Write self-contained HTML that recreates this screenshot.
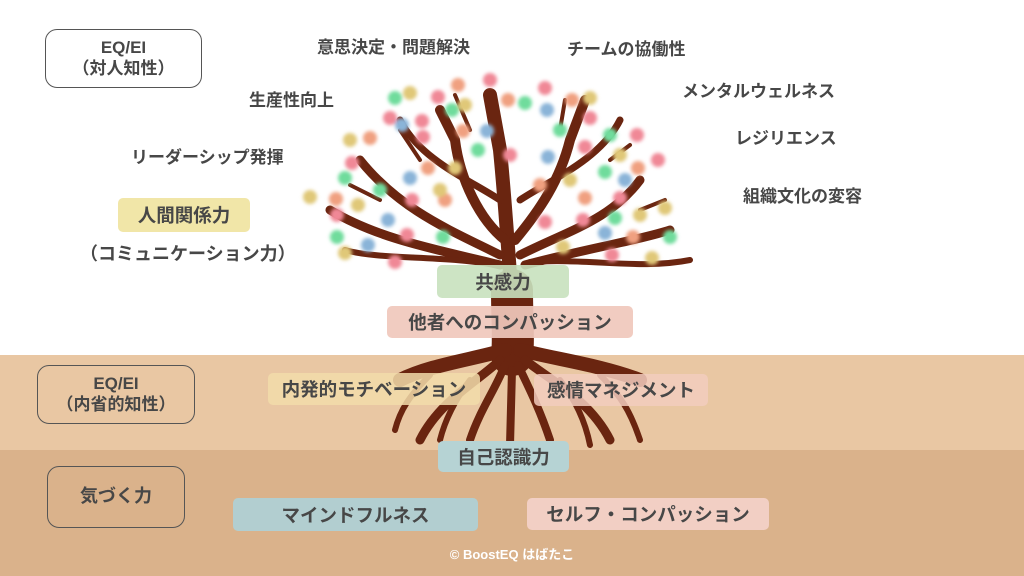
<!DOCTYPE html>
<html><head><meta charset="utf-8"><style>
body{margin:0;width:1024px;height:576px;overflow:hidden;position:relative;background:#fff;font-family:"Liberation Sans","Noto Sans CJK JP",sans-serif;font-weight:bold;color:#474747}
.t{position:absolute;font-size:17px;white-space:nowrap;line-height:1}
.b{position:absolute;display:flex;align-items:center;justify-content:center;font-size:18.5px;border-radius:5px;white-space:nowrap}
.o{position:absolute;border:1.3px solid #555;border-radius:12px;display:flex;flex-direction:column;align-items:center;justify-content:center;font-size:17px;line-height:1.2;box-sizing:border-box}
</style></head><body>
<div style="position:absolute;left:0;top:355px;width:1024px;height:95px;background:#e9c7a3"></div>
<div style="position:absolute;left:0;top:450px;width:1024px;height:126px;background:#dab28b"></div>
<svg style="position:absolute;left:0;top:0" width="1024" height="576">
<defs><filter id="bl"><feGaussianBlur stdDeviation="1.8"/></filter></defs>
<g fill="none" stroke="#6a2510" stroke-linecap="round">
<path d="M512 300 C508 250 505 200 500 150 L490 95" stroke-width="14"/>
<path d="M505 240 C480 220 460 180 455 140 L440 110" stroke-width="10"/>
<path d="M515 240 C540 210 560 180 570 140 L585 100" stroke-width="10"/>
<path d="M500 200 C470 180 420 160 400 120" stroke-width="7"/>
<path d="M520 200 C550 180 600 160 620 120" stroke-width="7"/>
<path d="M500 255 C450 230 400 210 360 160" stroke-width="9"/>
<path d="M520 255 C570 230 610 220 640 180" stroke-width="9"/>
<path d="M500 265 C440 250 380 240 330 210" stroke-width="9"/>
<path d="M525 265 C580 250 640 240 670 230" stroke-width="9"/>
<path d="M495 265 C440 255 380 260 345 250" stroke-width="6"/>
<path d="M530 262 C590 258 640 270 690 260" stroke-width="6"/>
<path d="M420 160 L400 130 M470 130 L455 95 M560 130 L565 100 M610 160 L630 145 M380 200 L350 185 M640 210 L665 200" stroke-width="4"/>
<path d="M512 290 C512 320 514 340 512 355" stroke-width="42"/>
<path d="M505 350 C470 360 430 365 400 380 M520 350 C560 360 600 365 640 380" stroke-width="14"/>
<path d="M500 360 C480 380 440 400 420 440 M525 360 C550 380 590 400 610 440" stroke-width="9"/>
<path d="M505 365 C495 390 480 410 470 440 M518 365 C530 390 540 410 550 440 M512 370 L510 445" stroke-width="8"/>
<path d="M430 375 C410 395 400 410 395 430 M600 375 C620 395 630 410 640 440 M470 380 C455 400 445 420 440 440 M560 380 C575 400 585 420 590 445" stroke-width="6"/>
</g>
<g filter="url(#bl)">
<circle cx="490" cy="80" r="7" fill="#f08896"/><circle cx="545" cy="88" r="7" fill="#f08896"/><circle cx="458" cy="85" r="7" fill="#f0a080"/><circle cx="438" cy="97" r="7" fill="#f08896"/><circle cx="410" cy="93" r="7" fill="#e0c878"/><circle cx="395" cy="98" r="7" fill="#6fdc9c"/><circle cx="390" cy="118" r="7" fill="#f08896"/><circle cx="402" cy="125" r="7" fill="#8ab4d8"/><circle cx="350" cy="140" r="7" fill="#e0c878"/><circle cx="370" cy="138" r="7" fill="#f0a080"/><circle cx="352" cy="163" r="7" fill="#f08896"/><circle cx="345" cy="178" r="7" fill="#6fdc9c"/><circle cx="310" cy="197" r="7" fill="#e0c878"/><circle cx="336" cy="199" r="7" fill="#f0a080"/><circle cx="337" cy="215" r="7" fill="#f08896"/><circle cx="337" cy="237" r="7" fill="#6fdc9c"/><circle cx="345" cy="253" r="7" fill="#e0c878"/><circle cx="368" cy="245" r="7" fill="#8ab4d8"/><circle cx="395" cy="262" r="7" fill="#f08896"/><circle cx="388" cy="220" r="7" fill="#8ab4d8"/><circle cx="407" cy="235" r="7" fill="#f08896"/><circle cx="443" cy="237" r="7" fill="#6fdc9c"/><circle cx="358" cy="205" r="7" fill="#e0c878"/><circle cx="380" cy="190" r="7" fill="#6fdc9c"/><circle cx="410" cy="178" r="7" fill="#8ab4d8"/><circle cx="412" cy="200" r="7" fill="#f08896"/><circle cx="445" cy="200" r="7" fill="#f0a080"/><circle cx="440" cy="190" r="7" fill="#e0c878"/><circle cx="455" cy="168" r="7" fill="#e0c878"/><circle cx="463" cy="131" r="7" fill="#f0a080"/><circle cx="423" cy="137" r="7" fill="#f08896"/><circle cx="428" cy="168" r="7" fill="#f0a080"/><circle cx="478" cy="150" r="7" fill="#6fdc9c"/><circle cx="487" cy="131" r="7" fill="#8ab4d8"/><circle cx="452" cy="110" r="7" fill="#6fdc9c"/><circle cx="465" cy="105" r="7" fill="#e0c878"/><circle cx="508" cy="100" r="7" fill="#f0a080"/><circle cx="525" cy="103" r="7" fill="#6fdc9c"/><circle cx="547" cy="110" r="7" fill="#8ab4d8"/><circle cx="572" cy="100" r="7" fill="#f0a080"/><circle cx="590" cy="98" r="7" fill="#e0c878"/><circle cx="560" cy="130" r="7" fill="#6fdc9c"/><circle cx="590" cy="118" r="7" fill="#f08896"/><circle cx="610" cy="135" r="7" fill="#6fdc9c"/><circle cx="637" cy="135" r="7" fill="#f08896"/><circle cx="585" cy="147" r="7" fill="#f08896"/><circle cx="548" cy="157" r="7" fill="#8ab4d8"/><circle cx="620" cy="155" r="7" fill="#e0c878"/><circle cx="638" cy="168" r="7" fill="#f0a080"/><circle cx="658" cy="160" r="7" fill="#f08896"/><circle cx="625" cy="180" r="7" fill="#8ab4d8"/><circle cx="605" cy="172" r="7" fill="#6fdc9c"/><circle cx="570" cy="180" r="7" fill="#e0c878"/><circle cx="540" cy="185" r="7" fill="#f0a080"/><circle cx="585" cy="198" r="7" fill="#f0a080"/><circle cx="620" cy="198" r="7" fill="#f08896"/><circle cx="665" cy="208" r="7" fill="#e0c878"/><circle cx="640" cy="215" r="7" fill="#e0c878"/><circle cx="615" cy="218" r="7" fill="#6fdc9c"/><circle cx="583" cy="220" r="7" fill="#f08896"/><circle cx="545" cy="222" r="7" fill="#f08896"/><circle cx="605" cy="233" r="7" fill="#8ab4d8"/><circle cx="633" cy="237" r="7" fill="#f0a080"/><circle cx="670" cy="237" r="7" fill="#6fdc9c"/><circle cx="612" cy="255" r="7" fill="#f08896"/><circle cx="563" cy="247" r="7" fill="#e0c878"/><circle cx="652" cy="258" r="7" fill="#e0c878"/><circle cx="510" cy="155" r="7" fill="#f08896"/><circle cx="422" cy="121" r="7" fill="#f08896"/>
</g>
</svg>
<div class="o" style="left:45px;top:29px;width:157px;height:59px">EQ/EI<span>（対人知性）</span></div>
<div class="o" style="left:37px;top:365px;width:158px;height:59px">EQ/EI<span>（内省的知性）</span></div>
<div class="o" style="left:47px;top:466px;width:138px;height:62px;font-size:18px">気づく力</div>
<div class="t" style="left:317px;top:39px">意思決定・問題解決</div>
<div class="t" style="left:567px;top:41px">チームの協働性</div>
<div class="t" style="left:682px;top:83px">メンタルウェルネス</div>
<div class="t" style="left:249px;top:92px">生産性向上</div>
<div class="t" style="left:735px;top:130px">レジリエンス</div>
<div class="t" style="left:131px;top:149px">リーダーシップ発揮</div>
<div class="t" style="left:743px;top:188px">組織文化の変容</div>
<div class="t" style="left:80px;top:245px;font-size:18px">（コミュニケーション力）</div>
<div class="b" style="left:118px;top:198px;width:132px;height:34px;background:#f1e6a8">人間関係力</div>
<div class="b" style="left:437px;top:265px;width:132px;height:33px;background:rgba(200,225,190,.9)">共感力</div>
<div class="b" style="left:387px;top:306px;width:246px;height:32px;background:rgba(240,200,188,.92)">他者へのコンパッション</div>
<div class="b" style="left:268px;top:373px;width:212px;height:32px;background:rgba(242,220,170,.85)">内発的モチベーション</div>
<div class="b" style="left:534px;top:374px;width:174px;height:32px;background:rgba(242,205,190,.85)">感情マネジメント</div>
<div class="b" style="left:438px;top:441px;width:131px;height:31px;background:#b6d3d4">自己認識力</div>
<div class="b" style="left:233px;top:498px;width:245px;height:33px;background:#b2ced0">マインドフルネス</div>
<div class="b" style="left:527px;top:498px;width:242px;height:32px;background:#f2cfc4">セルフ・コンパッション</div>
<div class="t" style="left:0;width:1024px;text-align:center;top:548px;font-size:13px;color:#fff">© BoostEQ はばたこ</div>
</body></html>
